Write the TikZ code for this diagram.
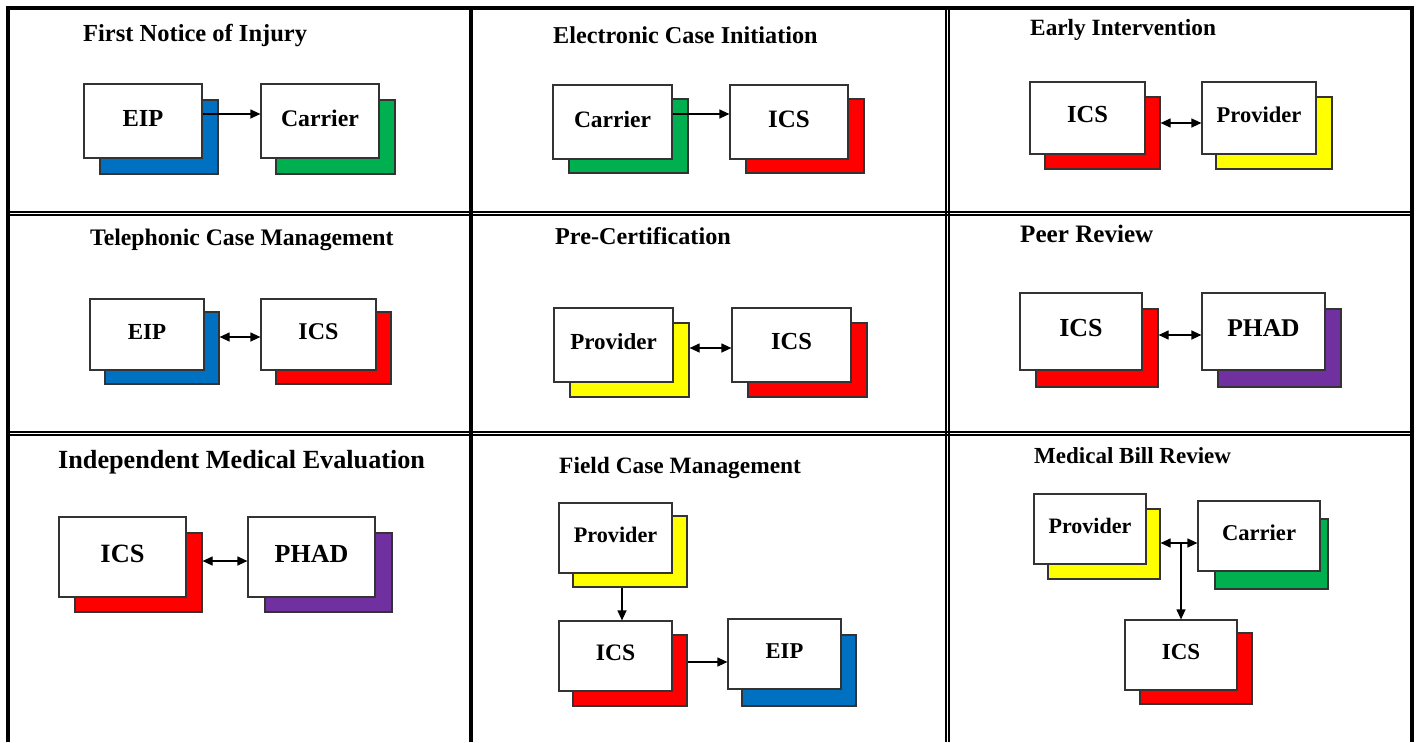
\documentclass[tikz,border=0pt]{standalone}
\usepackage{fontspec}
\setmainfont{Liberation Serif}
\usetikzlibrary{arrows.meta,fit,calc}
\definecolor{cblue}{HTML}{0070C0}
\definecolor{cgreen}{HTML}{00B050}
\definecolor{cred}{HTML}{FF0000}
\definecolor{cyellow}{HTML}{FFFF00}
\definecolor{cpurple}{HTML}{7030A0}
\definecolor{boxgray}{HTML}{333333}
\newcommand\lfs[1]{\fontsize{#1}{#1}\selectfont}
\tikzset{
  cardline/.style={draw=boxgray, line width=1.2pt, inner sep=0pt},
  shadowbox/.style={cardline},
  frontbox/.style={cardline, fill=white},
  cardtext/.style={font=\bfseries, inner sep=0pt, yshift=3pt},
  arr/.style={line width=1.2pt, -{Triangle[length=10pt,width=9pt]}},
  darr/.style={line width=1.2pt, {Triangle[length=10pt,width=9pt]}-{Triangle[length=10pt,width=9pt]}},
  title/.style={anchor=base west, inner sep=0pt, font=\bfseries},
  thickrule/.style={line width=3.5pt},
  thinrule/.style={line width=2pt}
}
% name, front corner 1, front corner 2, shadow corner 1, shadow corner 2, colour, size, label
\newcommand\card[8]{%
  \node[shadowbox, fill=#6, fit={(#4) (#5)}] (#1s) {};
  \node[frontbox, fit={(#2) (#3)}, label={[cardtext]center:{\lfs{#7}#8}}] (#1) {};
}
\begin{document}
\begin{tikzpicture}[x=1pt,y=-1pt]
\useasboundingbox (0,0) rectangle (1416,742);
% table rules
\draw[thickrule] (8,742) -- (8,8) -- (1412,8) -- (1412,742);
\draw[thickrule, line width=4pt] (471,8) -- (471,742);
\draw[thinrule] (946,8) -- (946,742);
\draw[thinrule] (949,8) -- (949,742);
\draw[thinrule] (8,212) -- (1412,212);
\draw[thinrule] (8,215) -- (1412,215);
\draw[thinrule] (8,432) -- (1412,432);
\draw[thinrule] (8,435) -- (1412,435);

% Panel 1
\node[title] (t1) at (83,41) {\lfs{24.5}First Notice of Injury};
\card{eipA}{84,84}{202,158}{100,100}{218,174}{cblue}{24.5}{EIP}
\card{carA}{261,84}{379,158}{276,100}{395,174}{cgreen}{23.8}{Carrier}
\draw[arr] (eipA.east |- 0,114) -- (carA.west |- 0,114);

% Panel 2
\node[title] (t2) at (553,43) {\lfs{24.2}Electronic Case Initiation};
\card{carB}{553,85}{672,159}{569,99}{688,173}{cgreen}{23.5}{Carrier}
\card{icsB}{730,85}{848,159}{746,99}{864,173}{cred}{25}{ICS}
\draw[arr] (carB.east |- 0,114) -- (icsB.west |- 0,114);

% Panel 3
\node[title] (t3) at (1030,35) {\lfs{23.3}Early Intervention};
\card{icsC}{1030,82}{1145,154}{1045,97}{1160,169}{cred}{24.5}{ICS}
\card{proC}{1202,82}{1316,154}{1216,97}{1332,169}{cyellow}{22.5}{Provider}
\draw[darr] (icsCs.east |- 0,123) -- (proC.west |- 0,123);

% Panel 4
\node[title] (t4) at (90,245) {\lfs{23.7}Telephonic Case Management};
\card{eipD}{90,299}{204,370}{105,312}{219,384}{cblue}{23}{EIP}
\card{icsD}{261,299}{376,370}{276,312}{391,384}{cred}{24}{ICS}
\draw[darr] (eipDs.east |- 0,337) -- (icsD.west |- 0,337);

% Panel 5
\node[title] (t5) at (555,244) {\lfs{24.2}Pre-Certification};
\card{proE}{554,308}{673,382}{570,323}{689,397}{cyellow}{23}{Provider}
\card{icsE}{732,308}{851,382}{748,323}{867,397}{cred}{24.5}{ICS}
\draw[darr] (proEs.east |- 0,348) -- (icsE.west |- 0,348);

% Panel 6
\node[title] (t6) at (1020,242) {\lfs{25.1}Peer Review};
\card{icsF}{1020,293}{1142,370}{1036,309}{1158,387}{cred}{26}{ICS}
\card{phaF}{1202,293}{1325,370}{1218,309}{1341,387}{cpurple}{25.5}{PHAD}
\draw[darr] (icsFs.east |- 0,335) -- (phaF.west |- 0,335);

% Panel 7
\node[title] (t7) at (58,468) {\lfs{26.2}Independent Medical Evaluation};
\card{icsG}{59,517}{186,597}{75,533}{202,612}{cred}{26.4}{ICS}
\card{phaG}{248,517}{375,597}{265,533}{392,612}{cpurple}{26}{PHAD}
\draw[darr] (icsGs.east |- 0,561) -- (phaG.west |- 0,561);

% Panel 8
\node[title] (t8) at (559,473) {\lfs{23.4}Field Case Management};
\card{proH}{559,503}{672,573}{573,516}{687,587}{cyellow}{22.2}{Provider}
\card{icsH}{559,621}{672,691}{573,635}{687,706}{cred}{23.6}{ICS}
\card{eipH}{728,619}{841,689}{742,635}{856,706}{cblue}{22.6}{EIP}
\draw[arr] (proHs.south -| 622,0) -- (icsH.north -| 622,0);
\draw[arr] (icsHs.east |- 0,662) -- (eipH.west |- 0,662);

% Panel 9
\node[title] (t9) at (1034,463) {\lfs{23}Medical Bill Review};
\card{proI}{1034,494}{1146,564}{1048,509}{1160,579}{cyellow}{22}{Provider}
\card{carI}{1198,501}{1320,571}{1215,519}{1328,589}{cgreen}{22.6}{Carrier}
\card{icsI}{1125,620}{1237,690}{1140,633}{1252,704}{cred}{23}{ICS}
\coordinate (mbj) at (1181,543);
\draw[darr] (proIs.east |- mbj) -- (carI.west |- mbj);
\draw[arr] (mbj) -- (icsI.north -| mbj);
\end{tikzpicture}
\end{document}
